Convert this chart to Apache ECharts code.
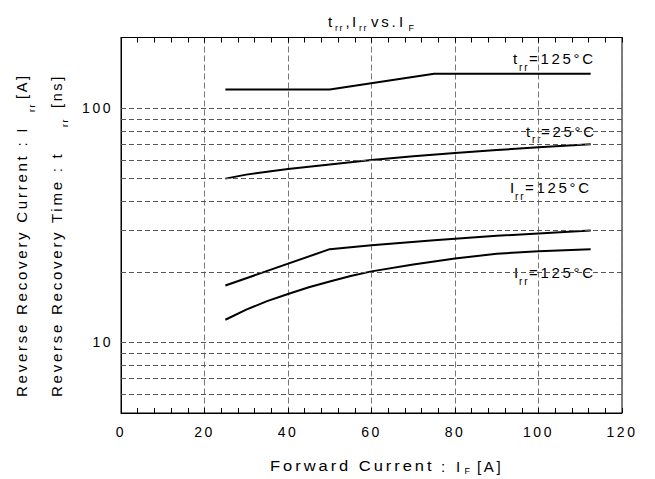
<!DOCTYPE html>
<html>
<head>
<meta charset="utf-8">
<script src="https://cdn.jsdelivr.net/npm/echarts@6/dist/echarts.min.js"></script>
<style>
  html, body { margin: 0; padding: 0; background: #fff; }
  #chart { width: 655px; height: 479px; }
  /* the original lettering is set wide */
  #chart text { letter-spacing: 0.18em; }
</style>
</head>
<body>
<div id="chart"></div>
<script>
  // axis ranges and labels
  const xMin = 0, xMax = 120, xStep = 20
  const yMin = 5, yMax = 200
  const yLabelValues = [10, 100]
  const yGridValues = [6, 7, 8, 9, 10, 20, 30, 40, 50, 60, 70, 80, 90, 100]

  // curves [IF (A), value]
  const trr125 = [[25, 120], [50, 120], [75, 140], [112.5, 140]]
  const trr25 = [[25, 50], [30, 52], [35, 53.5], [40, 55], [50, 57.5], [60, 60], [70, 62.3], [80, 64.3], [90, 66.2], [100, 68], [112.5, 70]]
  const irr125a = [[25, 17.5], [50, 25], [60, 26], [75, 27.3], [90, 28.5], [112.5, 30]]
  const irr125b = [[25, 12.5], [30, 13.8], [35, 15], [40, 16.1], [45, 17.2], [50, 18.2], [55, 19.2], [60, 20.1], [70, 21.5], [80, 22.8], [90, 23.9], [100, 24.5], [112.5, 25]]

  const FONT = "'Liberation Sans', Arial, sans-serif"

  function piece (x, y, text, size, rot, sx) {
    return {
      type: 'text', x: x, y: y, rotation: rot || 0, scaleX: sx || 1, silent: true,
      style: { text: text, fontSize: size, fontFamily: FONT, fill: '#000', align: 'left', verticalAlign: 'middle' }
    }
  }

  function curve (data) {
    return {
      type: 'line', data: data, symbol: 'none', animation: false,
      lineStyle: { color: '#000', width: 2 }
    }
  }

  const chart = echarts.init(document.getElementById('chart'), null, { renderer: 'svg' })
  chart.setOption({
    animation: false,
    grid: { left: 121, right: 33, top: 37.5, bottom: 66, show: true, borderColor: '#000', borderWidth: 1 },
    xAxis: [{
      type: 'value', min: xMin, max: xMax, interval: xStep, position: 'bottom',
      axisLine: { show: true, lineStyle: { color: '#000' } },
      axisTick: { show: true, inside: true, length: 5, lineStyle: { color: '#000' } },
      minorTick: { show: true, splitNumber: 5, length: 5, lineStyle: { color: '#000' } },
      splitLine: { show: true, lineStyle: { color: '#777', type: [6, 3] } },
      axisLabel: { color: '#000', fontSize: 14, fontFamily: FONT, margin: 12 }
    }, {
      type: 'value', min: xMin, max: xMax, interval: xStep, position: 'top',
      axisLine: { show: true, lineStyle: { color: '#000' } },
      axisTick: { show: true, inside: true, length: 5, lineStyle: { color: '#000' } },
      minorTick: { show: true, splitNumber: 5, length: 5, lineStyle: { color: '#000' } },
      splitLine: { show: false },
      axisLabel: { show: false }
    }],
    yAxis: {
      type: 'log', logBase: 10, min: yMin, max: yMax,
      axisLine: { show: true, lineStyle: { color: '#000' } },
      axisTick: { show: false },
      splitLine: { show: false },
      axisLabel: {
        color: '#000', fontSize: 14, fontFamily: FONT, margin: 8,
        formatter: function (v) { return yLabelValues.indexOf(Math.round(v)) >= 0 ? String(Math.round(v)) : '' }
      }
    },
    series: [
      curve(trr125), curve(trr25), curve(irr125a), curve(irr125b),
      {
        type: 'line', data: [], silent: true,
        markLine: {
          silent: true, symbol: 'none', animation: false, label: { show: false },
          lineStyle: { color: '#555', type: [5, 3], width: 1 },
          data: yGridValues.map(function (v) { return { yAxis: v } })
        }
      }
    ],
    graphic: [
      // title
      piece(328, 21, 't', 15), piece(335, 28, 'rr', 9), piece(345.5, 21, ',', 15), piece(352, 21, 'I', 15),
      piece(359, 28, 'rr', 9), piece(371, 21, 'vs.', 15), piece(399, 21, 'I', 15), piece(408.5, 28, 'F', 9),
      // curve labels
      piece(513, 58, 't', 15), piece(519, 67, 'rr', 10), piece(529, 58, '=125°C', 15),
      piece(526, 131, 't', 15), piece(532, 139, 'rr', 10), piece(541, 131, '=25°C', 15),
      piece(510, 187, 'I', 15), piece(515, 196, 'rr', 10), piece(525, 187, '=125°C', 15),
      piece(514, 272, 'I', 15), piece(519, 281, 'rr', 10), piece(529, 272, '=125°C', 15),
      // x axis name
      piece(270, 466, 'Forward Current', 15, 0, 1.1), piece(441, 466, ':', 15),
      piece(456, 466, 'I', 15), piece(464.5, 471, 'F', 9), piece(477, 466, '[A]', 15),
      // y axis names
      piece(22, 397, 'Reverse Recovery Current : I', 14.5, Math.PI / 2, 1.04),
      piece(32, 112, 'rr', 9, Math.PI / 2), piece(22, 99, '[A]', 14.5, Math.PI / 2),
      piece(57, 397, 'Reverse Recovery Time : t', 14.5, Math.PI / 2, 1.04),
      piece(65, 127, 'rr', 9, Math.PI / 2), piece(57, 108, '[ns]', 14.5, Math.PI / 2)
    ]
  })
</script>
</body>
</html>
